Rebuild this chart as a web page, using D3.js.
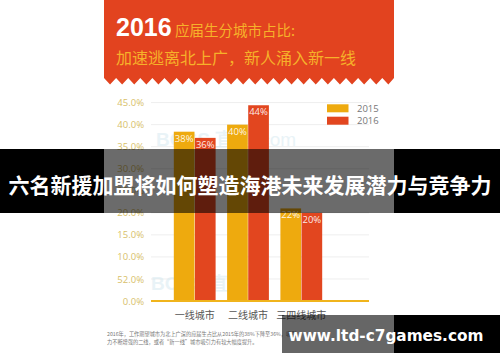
<!DOCTYPE html>
<html><head><meta charset="utf-8">
<script src="https://cdn.jsdelivr.net/npm/d3@7"></script>
<style>html,body{margin:0;padding:0;background:#fff;}svg{display:block;}</style>
</head><body>
<svg id="c" width="500" height="362"></svg>
<script>
const categories = ["一线城市", "二线城市", "三四线城市"];
const series = ["2015", "2016"];
const values2015 = [38.4, 40.0, 21.0];
const values2016 = [37.0, 44.4, 20.0];
const labels2015 = ["38%", "40%", "22%"];
const labels2016 = ["36%", "44%", "20%"];
const yTicks = [0, 5, 10, 15, 20, 25, 30, 35, 40, 45];
const yTickLabels = ["0.0%", "52.0%", "10.0%", "15.0%", "20.0%", "25.0%", "30.0%", "35.0%", "40.0%", "45.0%"];
const titleBig = "2016";
const titleSmall = "应届生分城市占比:";
const subtitle = "加速逃离北上广，新人涌入新一线";
const footnote = ["2016年，工作期望城市为北上广深的应届生占比从2015年的38%下降至36%，吸引",
                  "力不断增强的二线，或者“新一线”城市吸引力有较大幅度提升。"];
const banner = "六名新援加盟将如何塑造海港未来发展潜力与竞争力";
const site = "www.ltd-c7games.com";

const colors = {"2015": "#eeaa0e", "2016": "#e2461f"};
const svg = d3.select("#c");
const cardX0 = 104, cardX1 = 394;
const font = "'Noto Sans CJK SC', 'Noto Sans', sans-serif";

// header
const hdrColor = "#e2431f";
svg.append("rect").attr("x", cardX0).attr("y", 0).attr("width", cardX1 - cardX0).attr("height", 78).attr("fill", hdrColor);
const period = 12.1;
const teeth = d3.range(cardX0, cardX1, period);
svg.append("path").attr("fill", hdrColor)
  .attr("d", teeth.map(x => `M${x},78L${x + period / 2},84.5L${Math.min(x + period, cardX1)},78Z`).join(""));

svg.append("text").attr("x", 116).attr("y", 36).attr("fill", "#fff")
  .attr("font-family", "'Liberation Sans', Arial, sans-serif").attr("font-size", 25).attr("font-weight", "bold")
  .text(titleBig);
svg.append("text").attr("x", 175).attr("y", 36).attr("fill", "#f6b12a")
  .attr("font-family", font).attr("font-size", 14.5).text(titleSmall);
svg.append("text").attr("x", 116).attr("y", 64).attr("fill", "#f6b12a")
  .attr("font-family", font).attr("font-size", 16).text(subtitle);

// scales
const y = d3.scaleLinear().domain([0, 45]).range([301, 102.6]);
const x0 = d3.scaleBand().domain(categories).range([151, 345]).paddingInner(0.2).paddingOuter(0.42);
const x1 = d3.scaleBand().domain(series).range([0, x0.bandwidth()]).padding(0.02);

// grid
svg.append("g").selectAll("line").data(yTicks.slice(1)).join("line")
  .attr("x1", 151).attr("x2", 369).attr("y1", d => y(d)).attr("y2", d => y(d))
  .attr("stroke", "#eeeeee").attr("stroke-width", 1);

// y axis labels
const yAxis = d3.axisLeft(y).tickValues(yTicks).tickSize(0).tickPadding(0)
  .tickFormat((d, i) => yTickLabels[i]);
const yg = svg.append("g").attr("transform", "translate(144,0)").call(yAxis);
yg.select(".domain").remove();
yg.selectAll("text").attr("fill", "#d8bf6a").attr("font-family", "'Open Sans', 'Noto Sans', sans-serif").attr("font-size", 9.5);

// watermark
const wm = svg.append("g").attr("fill", "#cfe6ee").attr("opacity", 0.45).attr("font-family", "'Liberation Sans', sans-serif");
wm.append("text").attr("x", 156).attr("y", 146).attr("font-size", 19).attr("font-weight", "bold").text("BOSS 直聘");
wm.append("text").attr("x", 255).attr("y", 146).attr("font-size", 19).text(".com");
wm.append("text").attr("x", 151).attr("y", 290).attr("font-size", 19).attr("font-weight", "bold").text("BOSS 直聘");

// bars
const data = categories.map((c, i) => ({c, vals: [
  {s: "2015", v: values2015[i], l: labels2015[i]},
  {s: "2016", v: values2016[i], l: labels2016[i]}]}));
const groups = svg.append("g").selectAll("g").data(data).join("g")
  .attr("transform", d => `translate(${x0(d.c)},0)`);
groups.selectAll("rect").data(d => d.vals).join("rect")
  .attr("x", d => x1(d.s)).attr("width", x1.bandwidth())
  .attr("y", d => y(d.v)).attr("height", d => y(0) - y(d.v))
  .attr("fill", d => colors[d.s]);
groups.selectAll("text").data(d => d.vals).join("text")
  .attr("x", d => x1(d.s) + x1.bandwidth() / 2).attr("y", d => y(d.v) + 10)
  .attr("text-anchor", "middle").attr("fill", "#fff").attr("fill-opacity", 0.9)
  .attr("font-family", "'Open Sans', sans-serif").attr("font-size", 9.5).text(d => d.l);

// baseline
svg.append("line").attr("x1", 151).attr("x2", 369).attr("y1", y(0)).attr("y2", y(0))
  .attr("stroke", "#f0b41c").attr("stroke-width", 2);

// x labels
svg.append("g").selectAll("text").data(categories).join("text")
  .attr("x", d => x0(d) + x0.bandwidth() / 2).attr("y", 319)
  .attr("text-anchor", "middle").attr("fill", "#555").attr("font-family", font).attr("font-size", 10).text(d => d);

// legend
const lg = svg.append("g").selectAll("g").data(series).join("g")
  .attr("transform", (d, i) => `translate(327,${104.3 + i * 12.4})`);
lg.append("rect").attr("width", 21.5).attr("height", 8).attr("fill", d => colors[d]);
lg.append("text").attr("x", 30).attr("y", 7.5).attr("fill", "#777")
  .attr("font-family", "'Open Sans', sans-serif").attr("font-size", 9.5).text(d => d);

// footnote
svg.append("g").selectAll("text").data(footnote).join("text")
  .attr("x", 107).attr("y", (d, i) => 336 + i * 8).attr("fill", "#777")
  .attr("font-family", font).attr("font-size", 5.2).text(d => d);

// banner overlay
svg.append("rect").attr("x", 0).attr("y", 149).attr("width", cardX0).attr("height", 64).attr("fill", "#000");
svg.append("rect").attr("x", cardX1).attr("y", 149).attr("width", 500 - cardX1).attr("height", 64).attr("fill", "#000");
svg.append("rect").attr("x", cardX0).attr("y", 149).attr("width", cardX1 - cardX0).attr("height", 64).attr("fill", "#000").attr("opacity", 0.58);
svg.append("text").attr("x", 250).attr("y", 193).attr("text-anchor", "middle").attr("fill", "#fff")
  .attr("font-family", font).attr("font-weight", "bold").attr("font-size", 21).text(banner);

// site overlay
svg.append("rect").attr("x", 282).attr("y", 315).attr("width", cardX1 - 282).attr("height", 38).attr("fill", "#000").attr("opacity", 0.6);
svg.append("rect").attr("x", cardX1).attr("y", 315).attr("width", 500 - cardX1).attr("height", 38).attr("fill", "#000");
svg.append("text").attr("x", 386).attr("y", 341).attr("text-anchor", "middle").attr("fill", "#fff")
  .attr("font-family", "'DejaVu Sans', sans-serif").attr("font-weight", "bold").attr("font-size", 15.3).text(site);
</script>
</body></html>
